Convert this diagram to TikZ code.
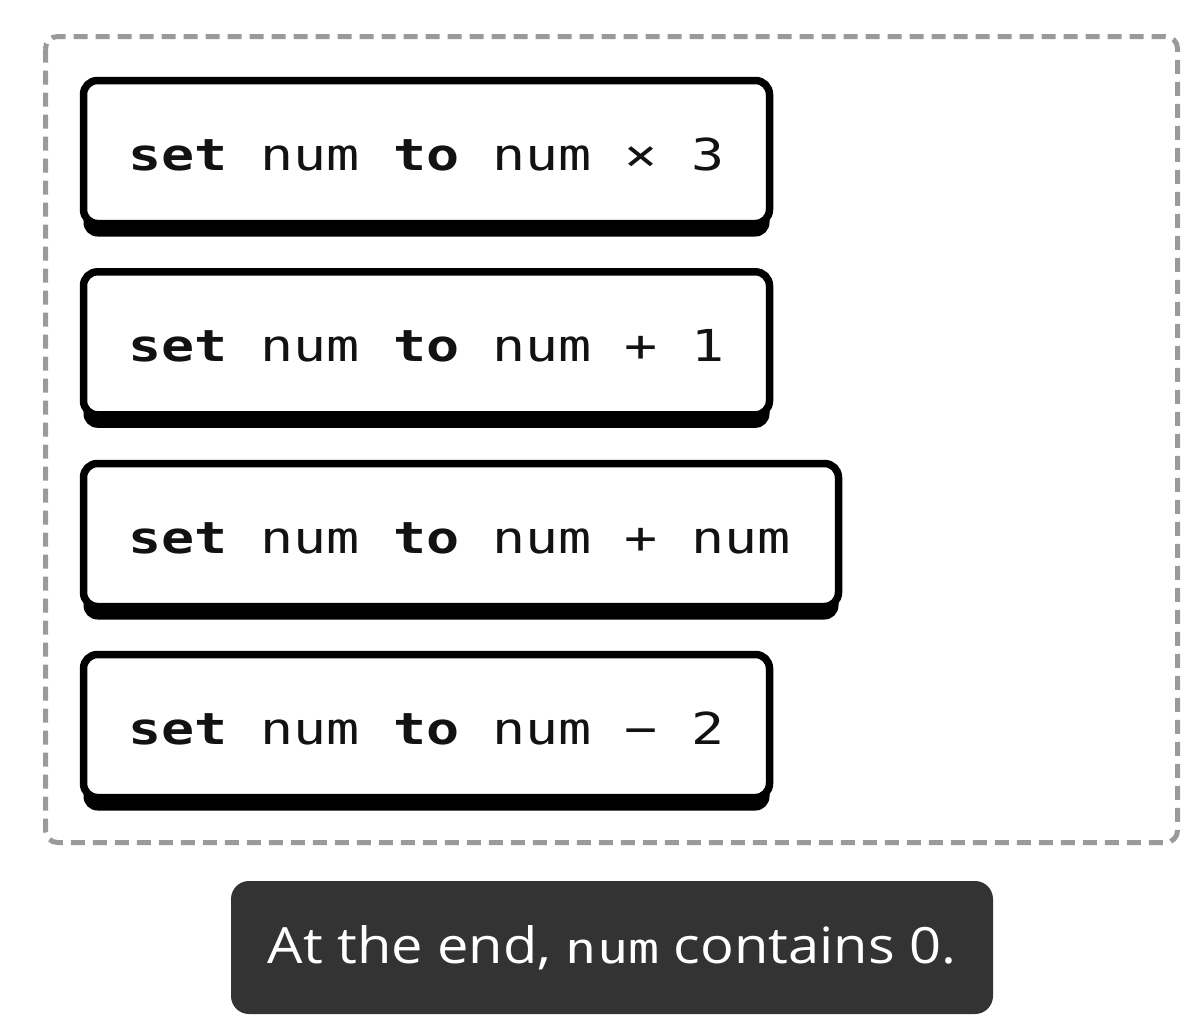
\documentclass[tikz,border=0pt]{standalone}
\usepackage{fontspec}
\usetikzlibrary{shadows}
\newfontfamily\codefont[FakeStretch=1.25]{DejaVu Sans Mono}
\newfontfamily\labelcode[FakeStretch=1.23]{DejaVu Sans Mono}
\newfontfamily\labelfont[FakeStretch=1.12]{Open Sans}
\definecolor{framegray}{HTML}{9A9A9A}
\definecolor{darkbox}{HTML}{333333}
\begin{document}
\begin{tikzpicture}[x=1pt,y=-1pt,
  block/.style={draw=black, line width=7.5pt, fill=white, rounded corners=14pt,
    minimum height=143pt, inner sep=0pt,
    drop shadow={shadow xshift=0pt, shadow yshift=-13pt, opacity=1, fill=black}},
  code/.style={anchor=base west, inner sep=0pt, font=\codefont\fontsize{44}{52}\selectfont, text=black!93},
  frame/.style={draw=framegray, line width=5pt, dash pattern=on 14pt off 8pt, rounded corners=12pt},
  result/.style={fill=darkbox, rounded corners=18pt, minimum width=762pt, minimum height=133pt, inner sep=0pt, text=white, font=\labelfont\fontsize{50}{60}\selectfont}
]
\useasboundingbox (0,0) rectangle (1200,1031);
\draw[frame] (45.5,36.5) rectangle (1177.5,842.5);

\node[block, minimum width=686pt] (b1) at (426.5,152) {};
\node[code] (t1) at (128,170) {\textbf{set} num \textbf{to} num × 3};

\node[block, minimum width=686pt] (b2) at (426.5,343.3) {};
\node[code] (t2) at (128,361) {\textbf{set} num \textbf{to} num + 1};

\node[block, minimum width=755pt] (b3) at (461,535) {};
\node[code] (t3) at (128,553) {\textbf{set} num \textbf{to} num + num};

\node[block, minimum width=686pt] (b4) at (426.5,726) {};
\node[code] (t4) at (128,744) {\textbf{set} num \textbf{to} num − 2};

\node[result] (res) at (612,947.5) {At the end, {\labelcode\fontsize{42}{50}\selectfont num} contains 0.};
\end{tikzpicture}
\end{document}
